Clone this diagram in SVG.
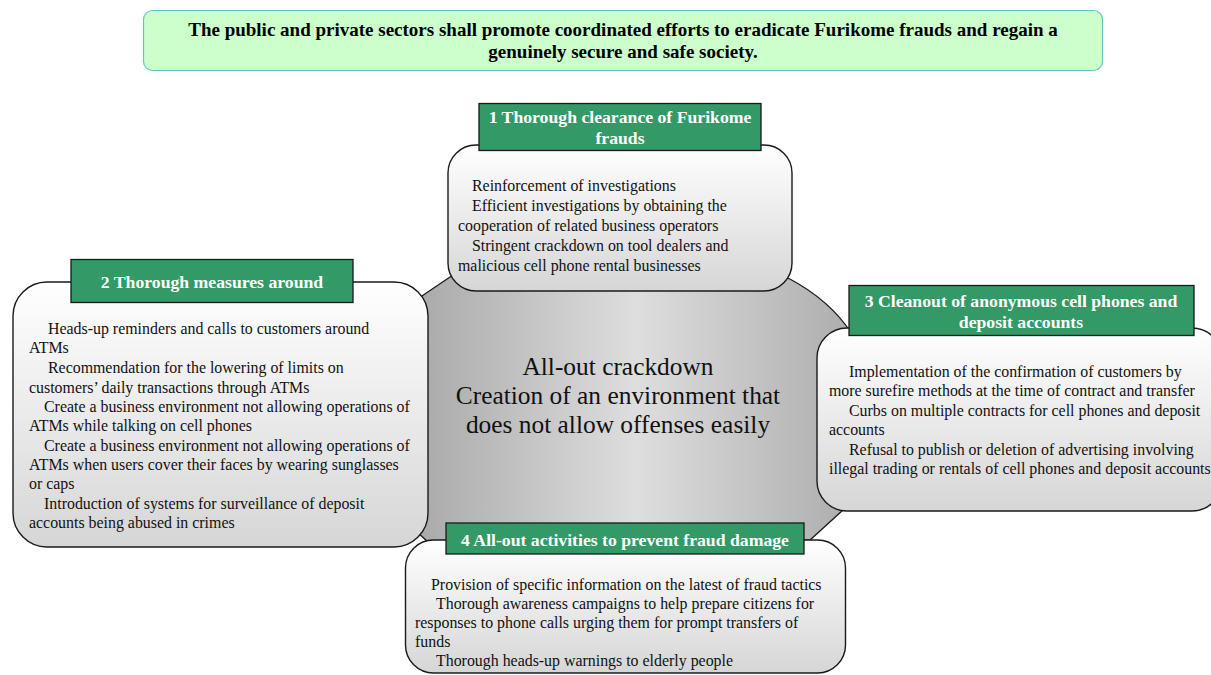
<svg xmlns="http://www.w3.org/2000/svg" width="1211" height="675" viewBox="0 0 1211 675">
  <defs>
    <linearGradient id="hubFill" x1="0" y1="0" x2="1" y2="0">
      <stop offset="0" stop-color="#a9a9a9"/>
      <stop offset="0.5" stop-color="#dedede"/>
      <stop offset="1" stop-color="#acacac"/>
    </linearGradient>
    <linearGradient id="boxFill" x1="0" y1="0" x2="0" y2="1">
      <stop offset="0" stop-color="#ffffff"/>
      <stop offset="1" stop-color="#d6d6d6"/>
    </linearGradient>
    <style>
      .banner { fill: #ccffcc; stroke: #5fc9c0; stroke-width: 1.2; }
      .banner-text { font-family: "Liberation Serif", "Times New Roman", serif; font-weight: bold; font-size: 19px; fill: #000; text-anchor: middle; }
      .hub { fill: url(#hubFill); stroke: #1a1a1a; stroke-width: 1.3; }
      .hub-text { font-family: "Liberation Serif", "Times New Roman", serif; font-size: 25.4px; fill: #111; text-anchor: middle; }
      .box { fill: url(#boxFill); stroke: #1a1a1a; stroke-width: 1.4; }
      .head { fill: #339966; stroke: #1a1a1a; stroke-width: 1.3; }
      .head-text { font-family: "Liberation Serif", "Times New Roman", serif; font-weight: bold; font-size: 17.7px; fill: #ffffff; text-anchor: middle; }
      .body { font-family: "Liberation Serif", "Times New Roman", serif; font-size: 15.9px; fill: #111; }
    </style>
  </defs>

  <!-- Goal statement -->
  <g id="goal">
    <rect class="banner" x="143.5" y="10.5" width="959" height="60" rx="9"/>
    <text class="banner-text" x="623" y="36">The public and private sectors shall promote coordinated efforts to eradicate Furikome frauds and regain a</text>
    <text class="banner-text" x="623" y="58">genuinely secure and safe society.</text>
  </g>

  <!-- Connectors: none drawn (boxes sit on the central hub) -->
  <g id="connectors"/>

  <!-- Central hub -->
  <g id="hub">
    <path class="hub" d="M416,300 L450,277 L480,262 L760,262 L788,278 Q830,300 852,334 L856,345 L856,495 L843,510 L810,540 L428,542 L416,531 Z"/>
    <text class="hub-text" x="618" y="375">All-out crackdown</text>
    <text class="hub-text" x="618" y="404">Creation of an environment that</text>
    <text class="hub-text" x="618" y="433">does not allow offenses easily</text>
  </g>

  <!-- 1 Thorough clearance -->
  <g id="measure-1">
    <rect class="box" x="448" y="145" width="344" height="146" rx="28"/>
    <rect class="head" x="479" y="103.5" width="282" height="47"/>
    <text class="head-text" x="620" y="123">1 Thorough clearance of Furikome</text>
    <text class="head-text" x="620" y="144">frauds</text>
    <text class="body" x="472" y="191">Reinforcement of investigations</text>
    <text class="body" x="472" y="211">Efficient investigations by obtaining the</text>
    <text class="body" x="458" y="231">cooperation of related business operators</text>
    <text class="body" x="472" y="251">Stringent crackdown on tool dealers and</text>
    <text class="body" x="458" y="271">malicious cell phone rental businesses</text>
  </g>

  <!-- 4 All-out activities -->
  <g id="measure-4">
    <rect class="box" x="405.5" y="540" width="440" height="133" rx="28"/>
    <rect class="head" x="446" y="523" width="358" height="31"/>
    <text class="head-text" x="625" y="546">4 All-out activities to prevent fraud damage</text>
    <text class="body" x="431" y="590">Provision of specific information on the latest of fraud tactics</text>
    <text class="body" x="436" y="609">Thorough awareness campaigns to help prepare citizens for</text>
    <text class="body" x="415" y="628">responses to phone calls urging them for prompt transfers of</text>
    <text class="body" x="415" y="647">funds</text>
    <text class="body" x="436" y="666">Thorough heads-up warnings to elderly people</text>
  </g>

  <!-- 2 Thorough measures around ATMs -->
  <g id="measure-2">
    <rect class="box" x="13" y="282" width="415" height="265" rx="34"/>
    <rect class="head" x="71" y="259.5" width="282" height="43"/>
    <text class="head-text" x="212" y="288">2 Thorough measures around</text>
    <text class="body" x="48" y="334">Heads-up reminders and calls to customers around</text>
    <text class="body" x="29" y="353">ATMs</text>
    <text class="body" x="48" y="373">Recommendation for the lowering of limits on</text>
    <text class="body" x="29" y="393">customers’ daily transactions through ATMs</text>
    <text class="body" x="44" y="412">Create a business environment not allowing operations of</text>
    <text class="body" x="29" y="431">ATMs while talking on cell phones</text>
    <text class="body" x="44" y="451">Create a business environment not allowing operations of</text>
    <text class="body" x="29" y="470">ATMs when users cover their faces by wearing sunglasses</text>
    <text class="body" x="29" y="489">or caps</text>
    <text class="body" x="44" y="509">Introduction of systems for surveillance of deposit</text>
    <text class="body" x="29" y="528">accounts being abused in crimes</text>
  </g>

  <!-- 3 Cleanout of anonymous phones and accounts -->
  <g id="measure-3">
    <rect class="box" x="817" y="328" width="405" height="183" rx="30"/>
    <rect class="head" x="849" y="285.5" width="345" height="50"/>
    <text class="head-text" x="1021" y="307">3 Cleanout of anonymous cell phones and</text>
    <text class="head-text" x="1021" y="328">deposit accounts</text>
    <text class="body" x="849" y="377">Implementation of the confirmation of customers by</text>
    <text class="body" x="829" y="396">more surefire methods at the time of contract and transfer</text>
    <text class="body" x="849" y="416">Curbs on multiple contracts for cell phones and deposit</text>
    <text class="body" x="829" y="435">accounts</text>
    <text class="body" x="849" y="455">Refusal to publish or deletion of advertising involving</text>
    <text class="body" x="829" y="474">illegal trading or rentals of cell phones and deposit accounts</text>
  </g>
</svg>
